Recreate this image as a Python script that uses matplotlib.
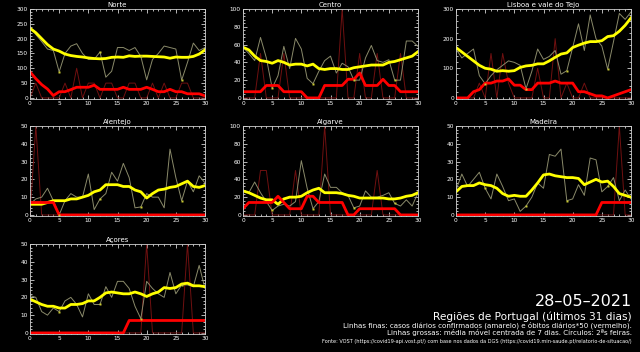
import matplotlib
matplotlib.use('Agg')
import matplotlib.pyplot as plt
from matplotlib.ticker import MultipleLocator, AutoMinorLocator

# dias (0 = 28 dias antes) e segundas-feiras
dias = list(range(31))
segundas = [5, 12, 19, 26]

# Norte
norte_casos = [240, 214, 190, 165, 160, 88, 150, 175, 183, 150, 130, 130, 155, 70, 90, 170,
               170, 160, 170, 140, 61, 130, 150, 175, 170, 165, 60, 120, 185, 160, 170]
norte_casos_mm = [235, 220, 200, 180, 165, 158, 148, 143, 140, 138, 135, 133, 132, 133, 137, 138,
                  137, 142, 140, 141, 141, 140, 139, 138, 134, 138, 137, 137, 140, 148, 162]
norte_obitos = [0, 50, 0, 0, 0, 0, 50, 0, 100, 0, 50, 50, 0, 50, 50, 0,
                0, 50, 50, 0, 0, 50, 0, 50, 0, 0, 50, 50, 0, 0, 0]
norte_obitos_mm = [88, 65, 45, 30, 8, 21, 21, 28, 36, 36, 36, 43, 29, 29, 29, 29,
                   36, 29, 29, 29, 36, 29, 21, 21, 29, 21, 21, 14, 14, 14, 7]

# Centro
centro_casos = [57, 50, 42, 68, 45, 11, 25, 58, 33, 67, 55, 22, 16, 30, 42, 47,
                28, 39, 35, 20, 20, 45, 59, 42, 40, 43, 20, 20, 64, 64, 58]
centro_casos_mm = [57, 54, 47, 42, 41, 39, 42, 40, 37, 38, 38, 36, 38, 33, 32, 33,
                   33, 32, 32, 34, 35, 36, 37, 37, 37, 40, 41, 43, 45, 47, 52]
centro_obitos = [0, 0, 0, 50, 0, 0, 0, 50, 0, 0, 0, 0, 0, 0, 0, 0,
                 0, 100, 0, 0, 50, 0, 0, 50, 0, 0, 0, 50, 0, 0, 0]
centro_obitos_mm = [7, 7, 7, 7, 14, 14, 14, 7, 7, 7, 7, 0, 0, 0, 14, 14,
                    14, 14, 21, 21, 28, 14, 14, 14, 21, 14, 14, 7, 7, 7, 7]

# Lisboa e vale do Tejo
lisboa_casos = [165, 135, 150, 165, 75, 48, 75, 95, 110, 125, 120, 110, 31, 90, 165, 130,
                140, 160, 80, 92, 170, 250, 160, 280, 200, 175, 97, 190, 285, 265, 290]
lisboa_casos_mm = [170, 155, 140, 125, 110, 100, 97, 90, 92, 90, 92, 103, 108, 110, 115, 115,
                   125, 137, 148, 152, 170, 178, 185, 190, 190, 193, 207, 210, 225, 245, 270]
lisboa_obitos = [0, 0, 0, 0, 50, 0, 150, 0, 150, 50, 0, 0, 0, 0, 100, 0,
                 0, 200, 0, 50, 0, 0, 50, 0, 0, 0, 0, 0, 0, 0, 0]
lisboa_obitos_mm = [0, 0, 0, 21, 28, 50, 50, 57, 57, 64, 43, 43, 28, 28, 50, 50,
                    50, 57, 50, 50, 50, 21, 21, 14, 7, 7, 0, 7, 14, 21, 28]

# Alentejo
alentejo_casos = [6, 9, 10, 15, 8, 0, 8, 12, 10, 10, 23, 3, 9, 12, 24, 19,
                  29, 21, 4, 4.5, 12, 10, 10, 4, 37, 21, 8, 19, 13, 22, 18]
alentejo_casos_mm = [6, 6, 6, 7, 8, 8, 8, 9, 9, 10, 11, 13, 14, 17, 17, 17,
                     16, 16, 14, 13, 9.5, 12, 14, 14.5, 15.5, 16, 17.5, 19, 16, 15.5, 16.5]
alentejo_obitos = [0, 50, 0, 0, 0, 0, 0, 0, 0, 0, 0, 0, 0, 0, 0, 0,
                   0, 0, 0, 0, 0, 0, 0, 0, 0, 0, 0, 0, 0, 0, 0]
alentejo_obitos_mm = [7, 7, 7, 7, 7, 0, 0, 0, 0, 0, 0, 0, 0, 0, 0, 0,
                      0, 0, 0, 0, 0, 0, 0, 0, 0, 0, 0, 0, 0, 0, 0]

# Algarve
algarve_casos = [27, 25, 37, 25, 15, 5, 10, 12, 10, 15, 61, 30, 7, 15, 46, 31,
                 31, 25, 22, 8, 10, 27, 20, 20, 22, 25, 13, 10, 17, 10, 25]
algarve_casos_mm = [27, 25, 22, 19, 17, 17, 12, 18, 20, 20, 21, 25, 28, 30, 25, 25,
                    25, 24, 22, 21, 19, 19, 19, 19, 19, 18, 18, 19, 21, 22, 25]
algarve_obitos = [0, 0, 0, 50, 50, 0, 0, 0, 0, 50, 0, 0, 0, 0, 100, 0,
                  0, 0, 0, 0, 0, 0, 0, 50, 0, 0, 0, 0, 0, 0, 0]
algarve_obitos_mm = [7, 14, 14, 14, 14, 14, 21, 14, 7, 7, 7, 21, 21, 14, 14, 14,
                     14, 14, 0, 0, 7, 7, 7, 7, 7, 7, 7, 0, 0, 0, 0]

# Madeira
madeira_casos = [14, 23, 16, 20, 24, 15, 9, 23, 16, 8, 9, 2, 5, 10, 18, 15,
                 34, 33, 37, 8, 9, 17, 11, 32, 31, 13, 16, 21, 8, 14, 9]
madeira_casos_mm = [13, 16, 16.5, 16.5, 18, 17, 16.5, 15, 12, 10.5, 11, 10.5, 10.5, 14, 18, 22.5,
                    23, 22, 21.5, 21, 21, 20.5, 17, 18.5, 20, 18.5, 19, 16, 12, 11, 10]
madeira_obitos = [0, 0, 0, 0, 0, 0, 0, 0, 0, 0, 0, 0, 0, 0, 0, 0,
                  0, 0, 0, 0, 0, 0, 0, 0, 0, 0, 0, 0, 50, 0, 0]
madeira_obitos_mm = [0, 0, 0, 0, 0, 0, 0, 0, 0, 0, 0, 0, 0, 0, 0, 0,
                     0, 0, 0, 0, 0, 0, 0, 0, 0, 7, 7, 7, 7, 7, 7]

# Açores
acores_casos = [21, 20, 12, 10, 14, 12, 18, 20, 16, 9, 22, 16, 16, 26, 20, 29,
                29, 25, 15, 8, 29, 25, 22, 20, 34, 22, 27, 27, 26, 38, 25]
acores_casos_mm = [19, 17.5, 16, 15, 15, 14, 14, 16, 16, 16.5, 18, 18, 20, 22.5, 23, 22.5,
                   22, 22, 23, 22, 20.5, 22, 23, 25.5, 25, 25.5, 27.5, 28, 26.5, 26.5, 26]
acores_obitos = [0, 0, 0, 0, 0, 0, 0, 0, 0, 0, 0, 0, 0, 0, 0, 0,
                 0, 0, 0, 0, 50, 0, 0, 0, 0, 0, 0, 50, 0, 0, 0]
acores_obitos_mm = [0, 0, 0, 0, 0, 0, 0, 0, 0, 0, 0, 0, 0, 0, 0, 0,
                    0, 7, 7, 7, 7, 7, 7, 7, 7, 7, 7, 7, 7, 7, 7]

# (titulo, dados, ymax, passo maior, coluna, linha)
paineis = [
    ('Norte', norte_casos, norte_casos_mm, norte_obitos, norte_obitos_mm, 300, 50, 0, 0),
    ('Centro', centro_casos, centro_casos_mm, centro_obitos, centro_obitos_mm, 100, 20, 1, 0),
    ('Lisboa e vale do Tejo', lisboa_casos, lisboa_casos_mm, lisboa_obitos, lisboa_obitos_mm, 300, 100, 2, 0),
    ('Alentejo', alentejo_casos, alentejo_casos_mm, alentejo_obitos, alentejo_obitos_mm, 50, 10, 0, 1),
    ('Algarve', algarve_casos, algarve_casos_mm, algarve_obitos, algarve_obitos_mm, 100, 20, 1, 1),
    ('Madeira', madeira_casos, madeira_casos_mm, madeira_obitos, madeira_obitos_mm, 50, 10, 2, 1),
    ('Açores', acores_casos, acores_casos_mm, acores_obitos, acores_obitos_mm, 50, 10, 0, 2),
]

W, H = 640, 352
fig = plt.figure(figsize=(W / 100, H / 100), dpi=100, facecolor='black')

col_x = [30, 243, 456]
row_top = [9, 126, 244]
pw, ph = 175, 90

for titulo, casos, casos_mm, obitos, obitos_mm, ymax, passo, c, r in paineis:
    ax = fig.add_axes([col_x[c] / W, 1 - (row_top[r] + ph) / H, pw / W, ph / H])
    ax.set_facecolor('black')

    ax.plot(dias, obitos, color='#701010', lw=0.7)
    ax.plot(dias, casos, color='#8a8a6a', lw=0.7)
    ax.plot(dias, casos_mm, color='#ffff00', lw=2.0)
    ax.plot(dias, obitos_mm, color='#ff0000', lw=2.0)
    ax.plot(segundas, [casos[i] for i in segundas], ls='none', marker='s',
            ms=2, color='#c8c832', mec='none')

    ax.set_xlim(0, 30)
    ax.set_ylim(-ymax * 0.012, ymax)
    ax.xaxis.set_major_locator(MultipleLocator(5))
    ax.xaxis.set_minor_locator(MultipleLocator(1))
    ax.yaxis.set_major_locator(MultipleLocator(passo))
    ax.yaxis.set_minor_locator(AutoMinorLocator(5))
    ax.tick_params(which='both', direction='in', colors='white', labelsize=4.2,
                   top=True, right=True, pad=1.5, width=0.5)
    ax.tick_params(which='major', length=3)
    ax.tick_params(which='minor', length=1.5)
    for s in ax.spines.values():
        s.set_color('#d0d0d0')
        s.set_linewidth(0.6)
    ax.set_title(titulo, color='white', fontsize=5, pad=1.5)

fig.text(632 / W, 1 - 302 / H, '28–05–2021', color='white', fontsize=11.5,
         ha='right', va='center')
fig.text(632 / W, 1 - 316.5 / H, 'Regiões de Portugal (últimos 31 dias)', color='white',
         fontsize=7.6, ha='right', va='center')
fig.text(632 / W, 1 - 325.5 / H,
         'Linhas finas: casos diários confirmados (amarelo) e óbitos diários*50 (vermelho).',
         color='white', fontsize=5.1, ha='right', va='center')
fig.text(632 / W, 1 - 333 / H,
         'Linhas grossas: média móvel centrada de 7 dias. Círculos: 2ªs feiras.',
         color='white', fontsize=5.1, ha='right', va='center')
fig.text(632 / W, 1 - 341 / H,
         'Fonte: VOST (https://covid19-api.vost.pt/) com base nos dados da DGS '
         '(https://covid19.min-saude.pt/relatorio-de-situacao/)',
         color='white', fontsize=3.6, ha='right', va='center')

plt.savefig('out.png', dpi=100, facecolor='black')
